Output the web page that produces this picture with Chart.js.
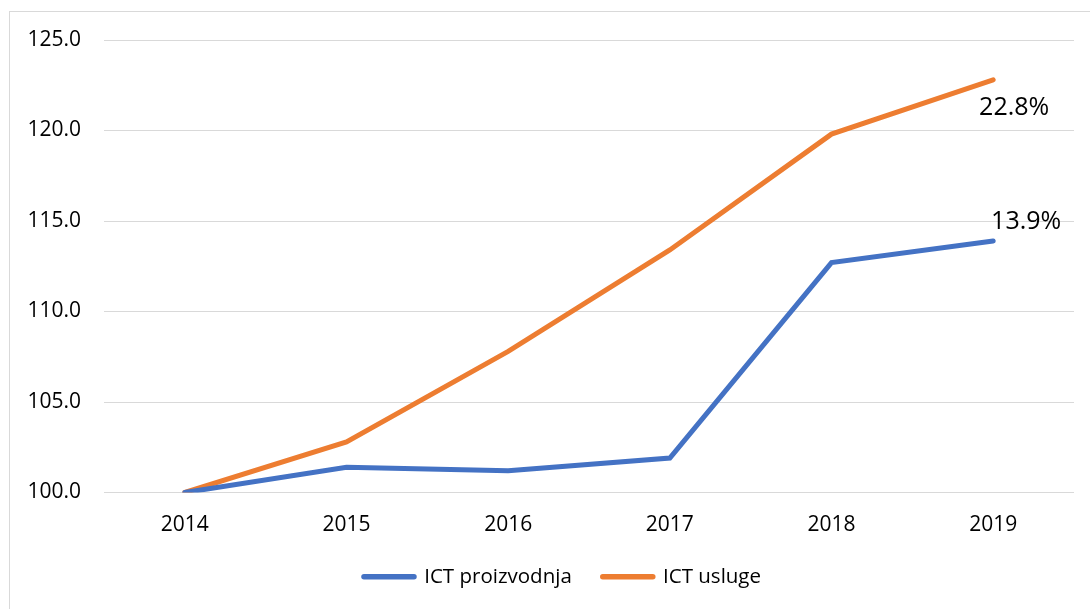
<html>
<head>
    <title>ICT proizvodnja i usluge</title>
    <script src="https://cdn.jsdelivr.net/npm/chart.js"></script>
    <style>
        body { margin: 0; background: #fff; }
        #wrap { position: relative; width: 1090px; height: 609px; overflow: hidden; }
        #frame { position: absolute; left: 9px; top: 11px; width: 1200px; height: 700px; border: 1px solid #d9d9d9; box-sizing: border-box; }
        canvas { position: absolute; left: 0; top: 0; }
    </style>
</head>
<body>
    <div id="wrap">
        <div id="frame"></div>
        <canvas id="ictChart" width="1090" height="609"></canvas>
    </div>

    <script>
        const years = ['2014', '2015', '2016', '2017', '2018', '2019'];
        const proizvodnja = [100.0, 101.4, 101.2, 101.9, 112.7, 113.9];
        const usluge = [100.0, 102.8, 107.8, 113.4, 119.8, 122.8];
        const endLabels = ['13.9%', '22.8%'];

        const FONT = "'Open Sans', sans-serif";

        // growth labels next to the last point of each line
        const endLabelPlugin = {
            id: 'endLabels',
            afterLayout(chart) {
                // legend sits a little right of the page centre in the original
                chart.legend.left += 51;
            },
            afterDatasetsDraw(chart) {
                const ctx = chart.ctx;
                ctx.save();
                ctx.font = '25px ' + FONT;
                ctx.fillStyle = '#000';
                ctx.textAlign = 'center';
                ctx.textBaseline = 'middle';
                const offsets = [[33, -19], [21, 28]];
                chart.data.datasets.forEach((ds, i) => {
                    const meta = chart.getDatasetMeta(i);
                    const pt = meta.data[meta.data.length - 1];
                    ctx.fillText(endLabels[i], pt.x + offsets[i][0], pt.y + offsets[i][1]);
                });
                ctx.restore();
            }
        };

        new Chart(document.getElementById('ictChart').getContext('2d'), {
            type: 'line',
            data: {
                labels: years,
                datasets: [
                    { label: 'ICT proizvodnja', data: proizvodnja, borderColor: '#4472C4', backgroundColor: '#4472C4',
                      borderWidth: 5, borderCapStyle: 'round', pointRadius: 0, tension: 0 },
                    { label: 'ICT usluge', data: usluge, borderColor: '#ED7D31', backgroundColor: '#ED7D31',
                      borderWidth: 5, borderCapStyle: 'round', pointRadius: 0, tension: 0 }
                ]
            },
            options: {
                responsive: false,
                animation: false,
                layout: { padding: { left: 0, right: 16, top: 40, bottom: 12 } },
                plugins: {
                    tooltip: { enabled: false },
                    legend: {
                        position: 'bottom',
                        labels: {
                            usePointStyle: true,
                            pointStyle: 'line',
                            pointStyleWidth: 50,
                            boxHeight: 5,
                            padding: 31,
                            color: '#000',
                            font: { family: FONT, size: 20.5 },
                            generateLabels(chart) {
                                return chart.data.datasets.map((ds, i) => ({
                                    text: ds.label, strokeStyle: ds.borderColor, fillStyle: ds.borderColor,
                                    lineWidth: 5.5, lineCap: 'round', pointStyle: 'line', datasetIndex: i
                                }));
                            }
                        }
                    }
                },
                scales: {
                    x: {
                        offset: true,
                        grid: { display: false, drawTicks: false },
                        border: { display: false },
                        ticks: { color: '#000', padding: 20, font: { family: FONT, size: 21 } },
                        afterFit(scale) { scale.height = 43; }
                    },
                    y: {
                        min: 100, max: 125,
                        grid: { color: '#d9d9d9', lineWidth: 1, drawTicks: false },
                        border: { display: false },
                        ticks: { stepSize: 5, color: '#000', padding: 23, font: { family: FONT, size: 21 },
                                 callback: v => v.toFixed(1) },
                        afterFit(scale) { scale.width = 104; }
                    }
                }
            },
            plugins: [endLabelPlugin]
        });
    </script>
</body>
</html>
